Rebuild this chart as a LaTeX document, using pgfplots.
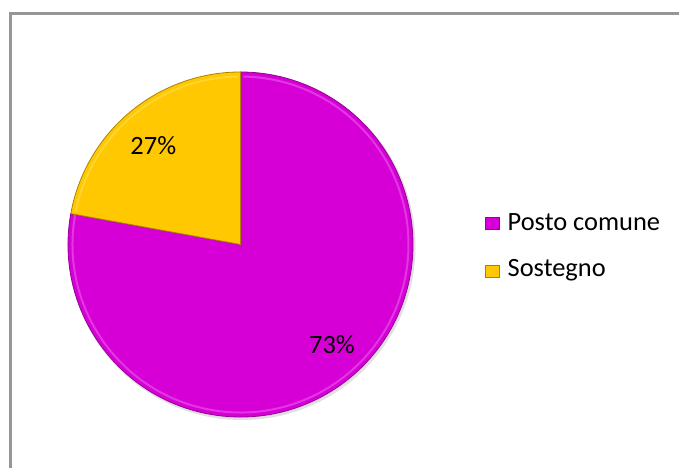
\documentclass[border=0pt]{standalone}
\usepackage{pgfplots}
\pgfplotsset{compat=1.18}
\usepackage{pgfplotstable}
\usepackage{fontspec}
\setmainfont{Carlito}
\definecolor{pmag}{RGB}{214,0,214}
\definecolor{pmagl}{RGB}{236,90,236}
\definecolor{pmagd}{RGB}{150,0,150}
\definecolor{pyel}{RGB}{255,200,0}
\definecolor{pyell}{RGB}{255,222,80}
\definecolor{pyeld}{RGB}{170,130,0}
\definecolor{bordergray}{RGB}{150,150,150}
% slice geometry (angles in degrees, counter-clockwise)
\pgfplotstableread{
slice pct startangle endangle
Posto 73 -190.3 90
Sostegno 27 90 169.7
}\piedata
\begin{document}
\begin{tikzpicture}
\pgfplotstablegetelem{0}{startangle}\of\piedata \edef\sA{\pgfplotsretval}
\pgfplotstablegetelem{0}{endangle}\of\piedata \edef\eA{\pgfplotsretval}
\pgfplotstablegetelem{1}{startangle}\of\piedata \edef\sB{\pgfplotsretval}
\pgfplotstablegetelem{1}{endangle}\of\piedata \edef\eB{\pgfplotsretval}
\pgfplotstablegetelem{0}{pct}\of\piedata \edef\pA{\pgfplotsretval}
\pgfplotstablegetelem{1}{pct}\of\piedata \edef\pB{\pgfplotsretval}
\begin{axis}[scale only axis, width=679bp, height=468bp,
  xmin=0, xmax=679, ymin=0, ymax=468, hide axis, clip=false]
% frame
\draw[bordergray, line width=2.2bp] (axis cs:10.5,0) -- (axis cs:10.5,454.5) -- (axis cs:679,454.5);
% soft shadow
\fill[black, opacity=0.12] (axis cs:242,221.5) circle[radius=173.5bp];
% slices
\fill[pmag, draw=pmagd, line width=0.8bp] (axis cs:240.5,223.5) -- ++(\sA:172.5bp)
  arc[start angle=\sA, end angle=\eA, radius=172.5bp] -- cycle;
\draw[pmagl, line width=2bp, opacity=0.6] (axis cs:240.5,223.5) ++(\sA:168bp)
  arc[start angle=\sA, end angle=\eA-1, radius=168bp];
\fill[pyel, draw=pyeld, line width=0.8bp] (axis cs:240.5,223.5) -- ++(\sB:172.5bp)
  arc[start angle=\sB, end angle=\eB, radius=172.5bp] -- cycle;
\draw[pyell, line width=2bp, opacity=0.6] (axis cs:240.5,223.5) ++(\sB+1:168bp)
  arc[start angle=\sB+1, end angle=\eB-1, radius=168bp];
% data labels
\node[anchor=base, font=\fontsize{26.5}{30}\selectfont, inner sep=0pt] at (axis cs:332,114.5) {\pA\%};
\node[anchor=base, font=\fontsize{26.5}{30}\selectfont, inner sep=0pt] at (axis cs:153.3,313) {\pB\%};
% legend
\fill[pmag, draw=pmagd, line width=0.6bp] (axis cs:485.5,239) rectangle (axis cs:499.5,251);
\node[anchor=base west, font=\fontsize{26.5}{30}\selectfont, inner sep=0pt] at (axis cs:507.5,237.5) {Posto comune};
\fill[pyel, draw=pyeld, line width=0.6bp] (axis cs:485.5,191) rectangle (axis cs:499.5,203);
\node[anchor=base west, font=\fontsize{26.5}{30}\selectfont, inner sep=0pt] at (axis cs:507.5,191) {Sostegno};
\end{axis}
\pgfresetboundingbox
\path (0,0) rectangle (679bp,468bp);
\end{tikzpicture}
\end{document}
